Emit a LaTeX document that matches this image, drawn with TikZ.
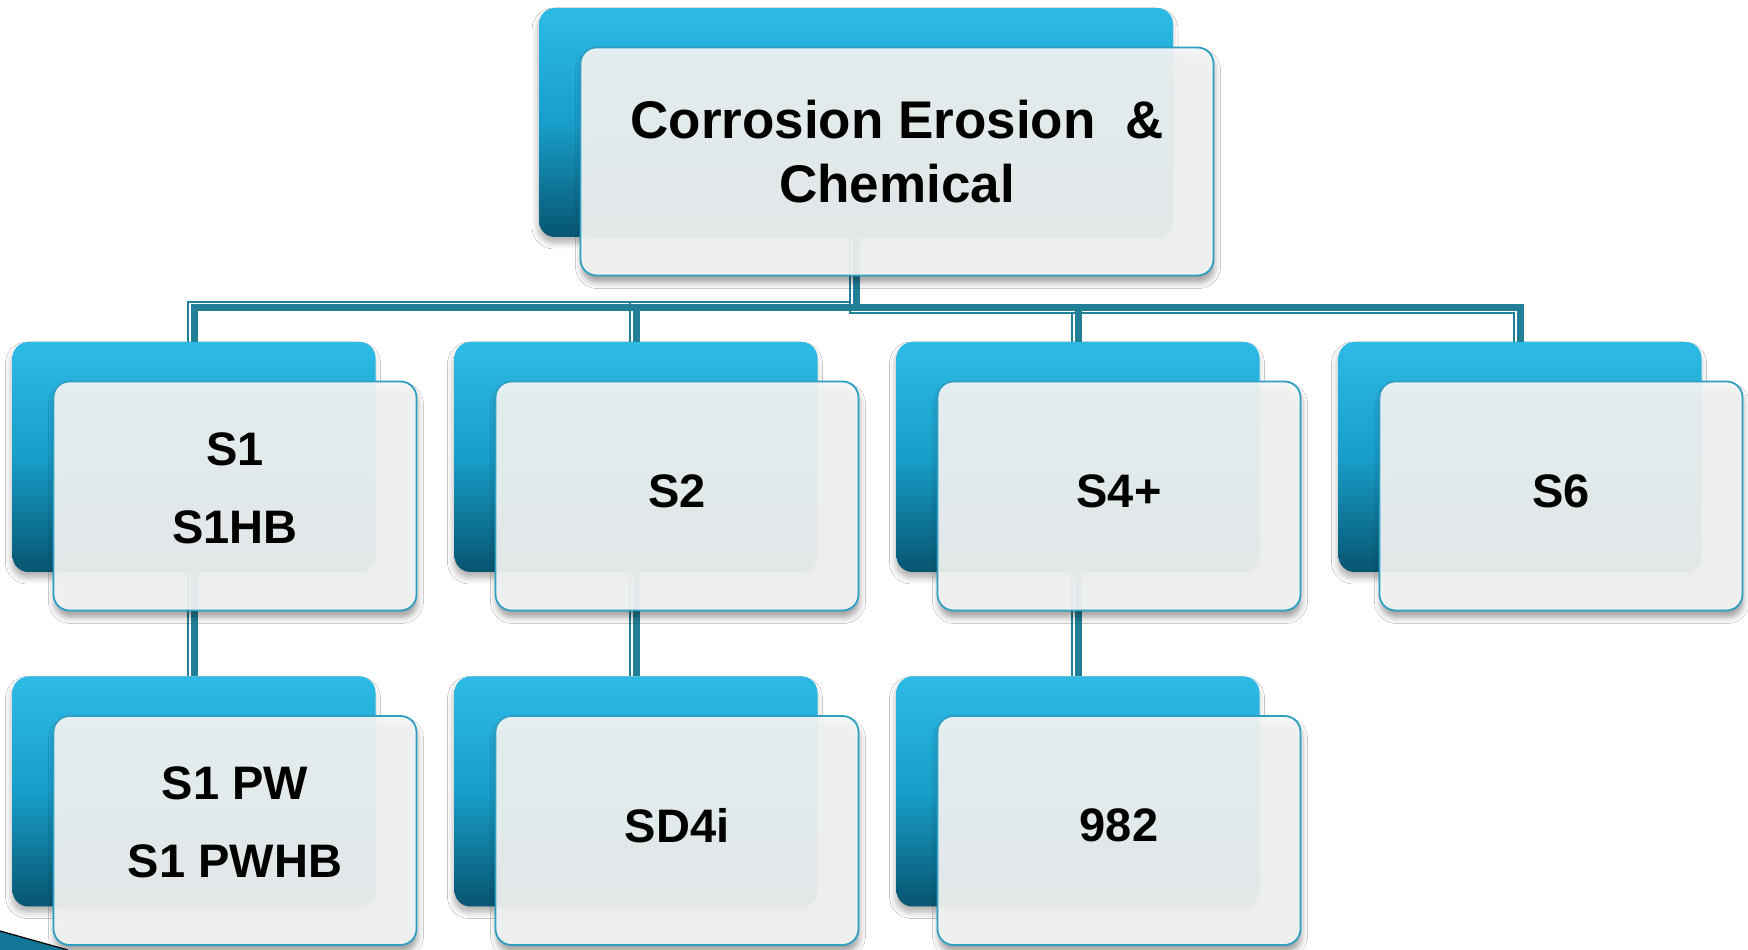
\documentclass[tikz,border=0pt]{standalone}
\usepackage{fontspec}
\setmainfont{Liberation Sans}
\usetikzlibrary{shadows.blur,calc}
\definecolor{conn}{RGB}{33,128,152}
\definecolor{bktop}{RGB}{45,187,230}
\definecolor{bkmid}{RGB}{24,158,202}
\definecolor{bkbot}{RGB}{7,85,112}
\definecolor{frfill}{RGB}{245,246,246}
\definecolor{frline}{RGB}{46,159,194}
\definecolor{swoosh}{RGB}{19,118,150}
\begin{document}
\begin{tikzpicture}[x=1pt,y=1pt,
  backshape/.style={rectangle, minimum width=363pt, minimum height=230pt, inner sep=0pt},
  backbox/.style={backshape, rounded corners=16pt,
    top color=bktop, bottom color=bkbot, middle color=bkmid,
    blur shadow={shadow xshift=-1pt, shadow yshift=-6pt, shadow blur radius=6pt, shadow opacity=30}},
  topsize/.style={minimum width=634pt, minimum height=229pt},
  frontbox/.style={rectangle, rounded corners=16pt, minimum width=363pt, minimum height=229pt,
    inner sep=0pt, fill=frfill, fill opacity=0.92, draw=frline, line width=1.8pt,
    blur shadow={shadow xshift=1pt, shadow yshift=-7pt, shadow blur radius=6pt, shadow opacity=40}},
  lbl/.style={align=center, inner sep=0pt, font=\bfseries\fontsize{47}{78}\selectfont},
  conn/.style={draw=conn, line width=7pt},
  connthin/.style={draw=conn, line width=2pt}
]
\useasboundingbox (0,0) rectangle (1748,950);
\fill[white] (0,0) rectangle (1748,950);

\coordinate (bar) at (856,642);
% back box positions (invisible)
\node[backshape, topsize] (b0) at (856,827.5) {};
\node[backshape] (b1) at (194,493) {};
\node[backshape] (b2) at (636,493) {};
\node[backshape] (b3) at (1078,493) {};
\node[backshape] (b4) at (1520,493) {};
\node[backshape] (c1) at (194,158.5) {};
\node[backshape] (c2) at (636,158.5) {};
\node[backshape] (c3) at (1078,158.5) {};

% connectors
\foreach \n in {b1,b2}{
  \draw[conn] (b0.south) -- (b0.south |- bar) -| (\n.north);
  \draw[connthin, transform canvas={shift={(-6.5pt,5.5pt)}}] (b0.south) -- (b0.south |- bar) -| ([yshift=-5.5pt]\n.north);
}
\foreach \n in {b3,b4}{
  \draw[conn] (b0.south) -- (b0.south |- bar) -| (\n.north);
  \draw[connthin, transform canvas={shift={(-6.5pt,-5.5pt)}}] ([yshift=5.5pt]b0.south) -- (b0.south |- bar) -| (\n.north);
}
\foreach \a/\b in {b1/c1,b2/c2,b3/c3}{
  \draw[conn] (\a.south) -- (\b.north);
  \draw[connthin, transform canvas={shift={(-6.5pt,0pt)}}] (\a.south) -- (\b.north);
}

% visible back boxes
\foreach \n in {b1,b2,b3,b4,c1,c2,c3}{
  \node[backbox] at (\n) {};
}
\node[backbox, topsize] at (b0) {};

% front boxes
\node[frontbox, minimum width=633pt, minimum height=228pt] (f0) at ($(b0)+(41,-39)$) {};
\node[frontbox] (f1) at ($(b1)+(41,-39)$) {};
\node[frontbox] (f2) at ($(b2)+(41,-39)$) {};
\node[frontbox] (f3) at ($(b3)+(41,-39)$) {};
\node[frontbox] (f4) at ($(b4)+(41,-39)$) {};
\node[frontbox] (g1) at ($(c1)+(41,-39)$) {};
\node[frontbox] (g2) at ($(c2)+(41,-39)$) {};
\node[frontbox] (g3) at ($(c3)+(41,-39)$) {};

% texts
\node[lbl, font=\bfseries\fontsize{53}{63.5}\selectfont] (t0) at ($(f0)+(0,10)$) {Corrosion Erosion~~\&\\Chemical};
\node[lbl] (t1) at ($(f1)+(0,8)$) {S1\\S1HB};
\node[lbl] (t2) at ($(f2)+(0,5)$) {S2};
\node[lbl] (t3) at ($(f3)+(0,5)$) {S4+};
\node[lbl] (t4) at ($(f4)+(0,5)$) {S6};
\node[lbl] (u1) at ($(g1)+(0,8)$) {S1 PW\\S1 PWHB};
\node[lbl] (u2) at ($(g2)+(0,5)$) {SD4i};
\node[lbl] (u3) at ($(g3)+(0,5)$) {982};

% decorative corner swoosh
\fill[swoosh] (0,0) -- (0,19) .. controls (25,12) .. (68,0) -- cycle;
\draw[black, line width=1.2pt] (0,19) .. controls (25,12) .. (68,0);
\end{tikzpicture}
\end{document}
